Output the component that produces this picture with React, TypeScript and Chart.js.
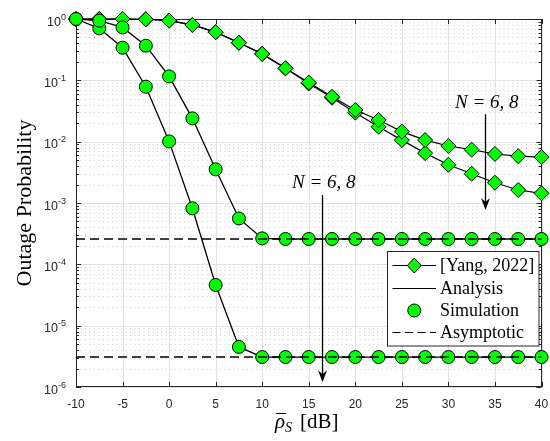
import React, { useEffect, useRef } from "react";
import { Chart, registerables } from "chart.js";
Chart.register(...registerables);

// ---------------- data ----------------
const snrDb = [-10, -7.5, -5, -2.5, 0, 2.5, 5, 7.5, 10, 12.5, 15, 17.5, 20, 22.5, 25, 27.5, 30, 32.5, 35, 37.5, 40];

const yangN6 = [1.0, 1.0, 1.0, 0.99, 0.94, 0.8, 0.61, 0.41, 0.27, 0.157, 0.092, 0.054, 0.0328, 0.0226, 0.0146, 0.0106, 0.0085, 0.0074, 0.0063, 0.0058, 0.0056];
const yangN8 = [1.0, 1.0, 1.0, 0.99, 0.94, 0.8, 0.61, 0.41, 0.27, 0.157, 0.089, 0.052, 0.0297, 0.0175, 0.0106, 0.0065, 0.0042, 0.003, 0.00214, 0.00163, 0.00144];

const analysisN6 = [1.0, 0.94, 0.73, 0.367, 0.116, 0.024, 0.00354, 5.6e-4, 2.65e-4, 2.59e-4, 2.59e-4, 2.59e-4, 2.59e-4, 2.59e-4, 2.59e-4, 2.59e-4, 2.59e-4, 2.59e-4, 2.59e-4, 2.59e-4, 2.59e-4];
const analysisN8 = [1.0, 0.705, 0.34, 0.0787, 0.0101, 8.2e-4, 4.6e-5, 4.5e-6, 3.08e-6, 3.08e-6, 3.08e-6, 3.08e-6, 3.08e-6, 3.08e-6, 3.08e-6, 3.08e-6, 3.08e-6, 3.08e-6, 3.08e-6, 3.08e-6, 3.08e-6];

const simulationN6 = [1.0, 0.94, 0.73, 0.367, 0.116, 0.024, 0.00354, 5.6e-4, 2.65e-4, 2.59e-4, 2.59e-4, 2.59e-4, 2.59e-4, 2.59e-4, 2.59e-4, 2.59e-4, 2.59e-4, 2.59e-4, 2.59e-4, 2.59e-4, 2.59e-4];
const simulationN8 = [1.0, 0.705, 0.34, 0.0787, 0.0101, 8.2e-4, 4.6e-5, 4.5e-6, 3.08e-6, 3.08e-6, 3.08e-6, 3.08e-6, 3.08e-6, 3.08e-6, 3.08e-6, 3.08e-6, 3.08e-6, 3.08e-6, 3.08e-6, 3.08e-6, 3.08e-6];

const asymptoteN6 = 2.59e-4;
const asymptoteN8 = 3.08e-6;

const xTickValues = [-10, -5, 0, 5, 10, 15, 20, 25, 30, 35, 40];
const yTickExponents = [0, -1, -2, -3, -4, -5, -6];

const legendLabels = ["[Yang, 2022]", "Analysis", "Simulation", "Asymptotic"];
const annotationText = "N = 6, 8";
// annotation anchors in data units: [x dB, text y, arrow start y, arrow tip y]
const annotationHigh = [33.9, 0.043, 0.028, 7.7e-4];
const annotationLow = [16.4, 2.1e-3, 1.35e-3, 1.2e-6];

const GREEN = "#00ff00";
const AXIS = "#262626";

const pts = (ys: number[]) => snrDb.map((x, i) => ({ x, y: ys[i] }));
const flat = (v: number) => [{ x: snrDb[0], y: v }, { x: snrDb[snrDb.length - 1], y: v }];

function drawArrow(ctx: CanvasRenderingContext2D, x: number, y1: number, y2: number) {
  ctx.save();
  ctx.strokeStyle = "#000";
  ctx.fillStyle = "#000";
  ctx.lineWidth = 1.3;
  ctx.beginPath();
  ctx.moveTo(x, y1);
  ctx.lineTo(x, y2 - 6);
  ctx.stroke();
  ctx.beginPath();
  ctx.moveTo(x, y2);
  ctx.lineTo(x - 4.5, y2 - 12);
  ctx.lineTo(x, y2 - 8);
  ctx.lineTo(x + 4.5, y2 - 12);
  ctx.closePath();
  ctx.fill();
  ctx.restore();
}

const decor = {
  id: "decor",
  beforeDatasetsDraw(chart: any) {
    const { ctx, chartArea: a, scales } = chart;
    const xs = scales.x, ys = scales.y;
    ctx.save();
    // minor grid (dotted)
    ctx.lineWidth = 1;
    ctx.strokeStyle = "#cfcfcf";
    ctx.setLineDash([1, 3.5]);
    for (let e = -6; e < 0; e++) {
      for (let m = 2; m <= 9; m++) {
        const py = Math.round(ys.getPixelForValue(m * Math.pow(10, e))) + 0.5;
        ctx.beginPath();
        ctx.moveTo(a.left, py);
        ctx.lineTo(a.right, py);
        ctx.stroke();
      }
    }
    ctx.setLineDash([]);
    // major grid
    ctx.strokeStyle = "#e2e2e2";
    xTickValues.forEach((v) => {
      const px = Math.round(xs.getPixelForValue(v)) + 0.5;
      ctx.beginPath();
      ctx.moveTo(px, a.top);
      ctx.lineTo(px, a.bottom);
      ctx.stroke();
    });
    yTickExponents.forEach((e) => {
      const py = Math.round(ys.getPixelForValue(Math.pow(10, e))) + 0.5;
      ctx.beginPath();
      ctx.moveTo(a.left, py);
      ctx.lineTo(a.right, py);
      ctx.stroke();
    });
    // box
    ctx.strokeStyle = AXIS;
    ctx.lineWidth = 1;
    ctx.strokeRect(Math.round(a.left) + 0.5, Math.round(a.top) + 0.5, Math.round(a.right - a.left) - 1, Math.round(a.bottom - a.top) - 1);
    // ticks
    ctx.beginPath();
    xTickValues.forEach((v) => {
      const px = Math.round(xs.getPixelForValue(v)) + 0.5;
      ctx.moveTo(px, a.bottom);
      ctx.lineTo(px, a.bottom - 5);
      ctx.moveTo(px, a.top);
      ctx.lineTo(px, a.top + 5);
    });
    yTickExponents.forEach((e) => {
      const py = Math.round(ys.getPixelForValue(Math.pow(10, e))) + 0.5;
      ctx.moveTo(a.left, py);
      ctx.lineTo(a.left + 5, py);
      ctx.moveTo(a.right, py);
      ctx.lineTo(a.right - 5, py);
    });
    for (let e = -6; e < 0; e++) {
      for (let m = 2; m <= 9; m++) {
        const py = Math.round(ys.getPixelForValue(m * Math.pow(10, e))) + 0.5;
        ctx.moveTo(a.left, py);
        ctx.lineTo(a.left + 3, py);
        ctx.moveTo(a.right, py);
        ctx.lineTo(a.right - 3, py);
      }
    }
    ctx.stroke();
    ctx.restore();
  },
  afterDatasetsDraw(chart: any) {
    const { ctx, chartArea: a, scales } = chart;
    const xs = scales.x, ys = scales.y;
    ctx.save();
    // x tick labels
    ctx.fillStyle = AXIS;
    ctx.font = '12px "Liberation Sans", Arial, sans-serif';
    ctx.textAlign = "center";
    ctx.textBaseline = "middle";
    xTickValues.forEach((v) => {
      ctx.fillText(String(v), xs.getPixelForValue(v), a.bottom + 18);
    });
    // y tick labels with superscript
    yTickExponents.forEach((e) => {
      const py = ys.getPixelForValue(Math.pow(10, e));
      const expStr = String(e);
      ctx.font = '9px "Liberation Sans", Arial, sans-serif';
      const we = ctx.measureText(expStr).width;
      ctx.font = '12.5px "Liberation Sans", Arial, sans-serif';
      const wb = ctx.measureText("10").width;
      const right = a.left - 10;
      ctx.textAlign = "left";
      ctx.textBaseline = "alphabetic";
      ctx.fillText("10", right - we - wb, py + 6.5);
      ctx.font = '9px "Liberation Sans", Arial, sans-serif';
      ctx.fillText(expStr, right - we, py + 0.5);
    });

    // y axis label
    ctx.save();
    ctx.translate(25, (a.top + a.bottom) / 2);
    ctx.rotate(-Math.PI / 2);
    ctx.fillStyle = "#000";
    ctx.font = '22px "Liberation Serif", "Times New Roman", serif';
    ctx.textAlign = "center";
    ctx.textBaseline = "middle";
    ctx.fillText("Outage Probability", 0, 0);
    ctx.restore();

    // x axis label: rho-bar _S [dB]
    {
      const base = 428;
      ctx.fillStyle = "#000";
      ctx.textAlign = "left";
      ctx.textBaseline = "alphabetic";
      ctx.font = 'italic 21px "Liberation Serif", serif';
      const wr = ctx.measureText("ρ").width;
      ctx.font = 'italic 14px "Liberation Serif", serif';
      const ws = ctx.measureText("S").width;
      ctx.font = '21px "Liberation Serif", serif';
      const wd = ctx.measureText("[dB]").width;
      const gap = 8;
      const total = wr + ws + gap + wd;
      let sx = (a.left + a.right) / 2 - 2 - total / 2;
      ctx.font = 'italic 21px "Liberation Serif", serif';
      ctx.fillText("ρ", sx, base);
      ctx.strokeStyle = "#000";
      ctx.lineWidth = 1;
      ctx.beginPath();
      ctx.moveTo(sx + 1, 413.5);
      ctx.lineTo(sx + wr + 1, 413.5);
      ctx.stroke();
      sx += wr;
      ctx.font = 'italic 14px "Liberation Serif", serif';
      ctx.fillText("S", sx, base + 4);
      sx += ws + gap;
      ctx.font = '21px "Liberation Serif", serif';
      ctx.fillText("[dB]", sx, base);
    }

    // annotations
    [annotationHigh, annotationLow].forEach((an) => {
      const px = xs.getPixelForValue(an[0]);
      ctx.fillStyle = "#000";
      ctx.font = 'italic 19px "Liberation Serif", serif';
      ctx.textAlign = "center";
      ctx.textBaseline = "middle";
      ctx.fillText(annotationText, px + 2, ys.getPixelForValue(an[1]));
      drawArrow(ctx, Math.round(px) + 0.5, ys.getPixelForValue(an[2]), ys.getPixelForValue(an[3]));
    });

    // legend
    {
      const L = 387.5, T = 251.5, R = 539, B = 346;
      ctx.fillStyle = "#fff";
      ctx.fillRect(L, T, R - L, B - T);
      ctx.strokeStyle = AXIS;
      ctx.lineWidth = 1;
      ctx.strokeRect(L, T, R - L, B - T);
      const rows = [265, 287.5, 309.5, 332];
      const x1 = 392.5, x2 = 436, xm = (x1 + x2) / 2;
      ctx.font = '18px "Liberation Serif", "Times New Roman", serif';
      ctx.textAlign = "left";
      ctx.textBaseline = "middle";
      legendLabels.forEach((lab, i) => {
        const ry = Math.round(rows[i]) + 0.5;
        ctx.strokeStyle = "#000";
        ctx.lineWidth = 1.2;
        ctx.setLineDash(i === 3 ? [8, 4.5] : []);
        if (i !== 2) {
          ctx.beginPath();
          ctx.moveTo(x1, ry);
          ctx.lineTo(x2, ry);
          ctx.stroke();
        }
        ctx.setLineDash([]);
        if (i === 0) {
          ctx.beginPath();
          ctx.moveTo(xm, ry - 7.5);
          ctx.lineTo(xm + 7, ry);
          ctx.lineTo(xm, ry + 7.5);
          ctx.lineTo(xm - 7, ry);
          ctx.closePath();
          ctx.fillStyle = GREEN;
          ctx.fill();
          ctx.lineWidth = 1;
          ctx.stroke();
        }
        if (i === 2) {
          ctx.beginPath();
          ctx.arc(xm, ry, 6.5, 0, Math.PI * 2);
          ctx.fillStyle = GREEN;
          ctx.fill();
          ctx.lineWidth = 1;
          ctx.stroke();
        }
        ctx.fillStyle = "#000";
        ctx.fillText(lab, 440, ry + 1);
      });
    }
    ctx.restore();
  },
};

export default function App() {
  const canvasRef = useRef<HTMLCanvasElement | null>(null);

  useEffect(() => {
    document.body.style.margin = "0";
    const canvas = canvasRef.current;
    if (!canvas) return;

    const asym = (v: number) => ({
      data: flat(v),
      borderColor: "#000",
      borderWidth: 1.5,
      borderDash: [9, 5],
      pointRadius: 0,
      fill: false,
      tension: 0,
      clip: false as any,
    });
    const sim = (ys: number[]) => ({
      data: pts(ys),
      showLine: false,
      pointStyle: "circle",
      pointRadius: 6.5,
      pointBackgroundColor: GREEN,
      pointBorderColor: "#000",
      pointBorderWidth: 1,
      borderColor: "#000",
      clip: false as any,
    });
    const ana = (ys: number[]) => ({
      data: pts(ys),
      borderColor: "#000",
      borderWidth: 1.3,
      pointRadius: 0,
      fill: false,
      tension: 0,
      clip: false as any,
    });
    const yang = (ys: number[]) => ({
      data: pts(ys),
      borderColor: "#000",
      borderWidth: 1.2,
      pointStyle: "rectRot",
      pointRadius: 7.5,
      pointBackgroundColor: GREEN,
      pointBorderColor: "#000",
      pointBorderWidth: 1,
      fill: false,
      tension: 0,
      clip: false as any,
    });

    const chart = new Chart(canvas, {
      type: "line",
      data: {
        datasets: [
          asym(asymptoteN6),
          asym(asymptoteN8),
          sim(simulationN6),
          sim(simulationN8),
          ana(analysisN6),
          ana(analysisN8),
          yang(yangN6),
          yang(yangN8),
        ] as any,
      },
      options: {
        animation: false,
        responsive: false,
        devicePixelRatio: 1,
        layout: { padding: { left: 76, top: 19, right: 6, bottom: 54 } },
        plugins: { legend: { display: false }, tooltip: { enabled: false } },
        scales: {
          x: { type: "linear", min: -10, max: 40, display: false },
          y: { type: "logarithmic", min: 1e-6, max: 1, display: false },
        },
      },
      plugins: [decor as any],
    });
    return () => chart.destroy();
  }, []);

  return (
    <div style={{ width: 550, height: 441, background: "#fff" }}>
      <canvas ref={canvasRef} width={550} height={441} />
    </div>
  );
}
